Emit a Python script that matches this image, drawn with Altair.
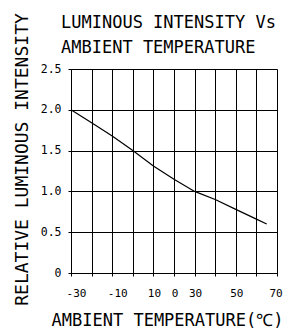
import altair as alt
import pandas as pd

temps = [-30, -20, -10, 0, 10, 20, 30, 40, 50, 60, 65]
intensity = [2.0, 1.84, 1.68, 1.50, 1.31, 1.15, 1.0, 0.90, 0.78, 0.66, 0.60]

x_ticks = [-30, -20, -10, 0, 10, 20, 30, 40, 50, 60, 70]
y_ticks = [0, 0.5, 1.0, 1.5, 2.0, 2.5]
title_lines = ["LUMINOUS INTENSITY Vs", "AMBIENT TEMPERATURE"]
x_title = "AMBIENT TEMPERATURE(℃)"
y_title = "RELATIVE LUMINOUS INTENSITY"

df = pd.DataFrame({"t": temps, "v": intensity})

MONO = "DejaVu Sans Mono"

x_axis = alt.Axis(
    values=x_ticks,
    labelExpr="datum.value == 20 ? '0' : (indexof([-20, 0, 40, 60], datum.value) >= 0 ? '' : (datum.value < 0 ? '-' + abs(datum.value) : '' + datum.value))",
    labelFont=MONO, labelFontSize=11, labelColor="#000",
    labelOverlap=False, labelFlush=False,
    labelOffset={"condition": [
        {"test": "datum.value < 0", "value": 5},
        {"test": "datum.value == 70", "value": -1.5},
    ], "value": 0.5},
    tickSize=3, tickColor="#000", labelPadding=11,
    grid=True, gridColor="#000", gridWidth=1, gridOpacity=1,
    domainColor="#000",
    title=x_title, titleFont=MONO, titleFontSize=17, titleFontWeight="normal",
    titleColor="#000", titleX=96, titleY=52, titleAlign="center",
    titleBaseline="alphabetic",
)

y_axis = alt.Axis(
    values=y_ticks,
    labelExpr="datum.value == 0 ? '0' : format(datum.value, '.1f')",
    labelFont=MONO, labelFontSize=11.5, labelColor="#000",
    labelOverlap=False, labelFlush=False,
    tickSize=3, tickColor="#000", labelPadding=7,
    grid=True, gridColor="#000", gridWidth=1, gridOpacity=1,
    domainColor="#000",
    title=y_title, titleFont=MONO, titleFontSize=18, titleFontWeight="normal",
    titleColor="#000", titleX=-44, titleY=90, titleAngle=270, titleAlign="center",
    titleBaseline="alphabetic",
)

chart = alt.Chart(df).mark_line(color="#000", strokeWidth=1.2).encode(
    x=alt.X("t:Q", scale=alt.Scale(domain=[-30, 70], nice=False, zero=False), axis=x_axis),
    y=alt.Y("v:Q", scale=alt.Scale(domain=[0, 2.5], nice=False), axis=y_axis),
).properties(
    width=206,
    height=204,
    autosize="none",
    padding={"left": 63, "top": 61, "right": 6, "bottom": 56},
    title=alt.TitleParams(
        text=title_lines, anchor="start", frame="group", dx=-10, dy=48,
        font=MONO, fontSize=17, fontWeight="normal", color="#000",
        lineHeight=25,
    ),
).configure_view(stroke="#000", strokeWidth=1).configure(background="white")

chart.save("out.html", embed_options={"renderer": "svg", "actions": False})
